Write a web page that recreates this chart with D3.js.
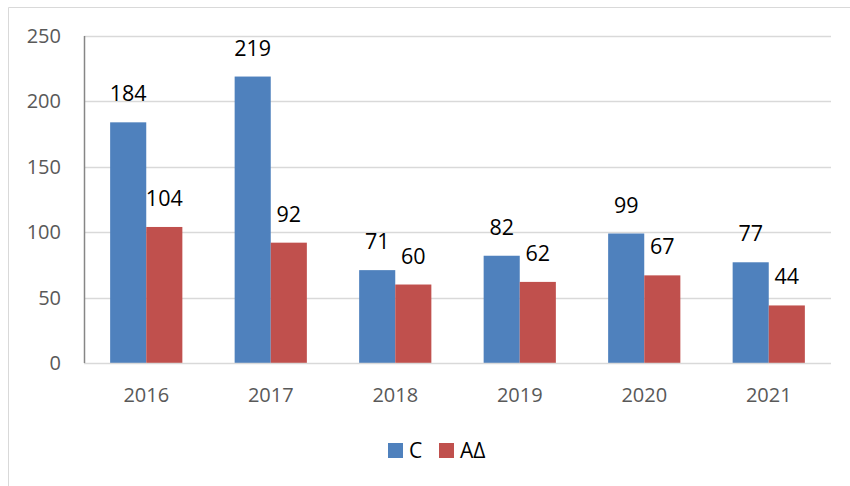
<!DOCTYPE html>
<html>
<head>
<meta charset="utf-8">
<script src="https://cdn.jsdelivr.net/npm/d3@7"></script>
<style>
  body { margin: 0; background: #fff; }
  svg { display: block; font-family: "Open Sans", "Noto Sans", sans-serif; }
</style>
</head>
<body>
<svg id="chart" width="850" height="486"></svg>
<script>
var years = ["2016", "2017", "2018", "2019", "2020", "2021"];
var seriesNames = ["C", "ΑΔ"];
var valuesC = [184, 219, 71, 82, 99, 77];
var valuesAD = [104, 92, 60, 62, 67, 44];
var yTicks = [0, 50, 100, 150, 200, 250];
var colors = ["#4f81bd", "#c0504d"];

var svg = d3.select("#chart");
var width = +svg.attr("width");
var height = +svg.attr("height");

// outer chart border (runs off the right and bottom edge)
svg.append("path")
  .attr("d", "M8.5," + height + "V7.5H" + width)
  .attr("fill", "none").attr("stroke", "#d9d9d9").attr("stroke-width", 1);

var margin = { top: 36, right: 19, bottom: 123, left: 84 };
var innerWidth = width - margin.left - margin.right;
var innerHeight = height - margin.top - margin.bottom;

var g = svg.append("g")
  .attr("transform", "translate(" + margin.left + "," + margin.top + ")");

var x0 = d3.scaleBand().domain(years).range([0, innerWidth]).paddingInner(0.42).paddingOuter(0.21);
var x1 = d3.scaleBand().domain(seriesNames).range([0, x0.bandwidth()]);
var y = d3.scaleLinear().domain([0, 250]).range([innerHeight, 0]);

var data = years.map(function (yr, i) {
  return { year: yr, vals: [valuesC[i], valuesAD[i]] };
});

// gridlines
g.selectAll("line.grid")
  .data(yTicks.filter(function (t) { return t > 0; }))
  .enter().append("line")
  .attr("class", "grid")
  .attr("x1", 0).attr("x2", innerWidth)
  .attr("y1", function (d) { return Math.round(y(d)) + 0.5; })
  .attr("y2", function (d) { return Math.round(y(d)) + 0.5; })
  .attr("stroke", "#d9d9d9").attr("stroke-width", 1.5);

// bars
var groups = g.selectAll("g.year")
  .data(data)
  .enter().append("g")
  .attr("class", "year")
  .attr("transform", function (d) { return "translate(" + x0(d.year) + ",0)"; });

function pairs(d) {
  return d.vals.map(function (v, i) { return { key: seriesNames[i], v: v, i: i }; });
}

groups.selectAll("rect")
  .data(pairs)
  .enter().append("rect")
  .attr("x", function (d) { return x1(d.key); })
  .attr("width", x1.bandwidth())
  .attr("y", function (d) { return y(d.v); })
  .attr("height", function (d) { return innerHeight - y(d.v); })
  .attr("fill", function (d) { return colors[d.i]; });

groups.selectAll("text.lbl")
  .data(pairs)
  .enter().append("text")
  .attr("class", "lbl")
  .attr("x", function (d) { return x1(d.key) + x1.bandwidth() / 2; })
  .attr("y", function (d) { return y(d.v) - 21; })
  .attr("text-anchor", "middle")
  .attr("font-size", 21.5)
  .attr("fill", "#000")
  .text(function (d) { return d.v; });

// x baseline
g.append("line")
  .attr("x1", 0).attr("x2", innerWidth)
  .attr("y1", innerHeight + 0.5).attr("y2", innerHeight + 0.5)
  .attr("stroke", "#d9d9d9").attr("stroke-width", 1.5);

// y axis line
g.append("line")
  .attr("x1", 0.5).attr("x2", 0.5)
  .attr("y1", 0).attr("y2", innerHeight)
  .attr("stroke", "#868686").attr("stroke-width", 1.5);

// y tick labels
g.selectAll("text.ytick")
  .data(yTicks)
  .enter().append("text")
  .attr("class", "ytick")
  .attr("x", -23)
  .attr("y", function (d) { return y(d); })
  .attr("dy", "0.35em")
  .attr("text-anchor", "end")
  .attr("font-size", 20)
  .attr("fill", "#595959")
  .text(function (d) { return d; });

// x tick labels
g.selectAll("text.xtick")
  .data(years)
  .enter().append("text")
  .attr("class", "xtick")
  .attr("x", function (d) { return x0(d) + x0.bandwidth() / 2; })
  .attr("y", innerHeight + 32)
  .attr("dy", "0.35em")
  .attr("text-anchor", "middle")
  .attr("font-size", 20)
  .attr("fill", "#595959")
  .text(function (d) { return d; });

// legend
var legend = svg.append("g").attr("transform", "translate(388,443)");
var item = legend.selectAll("g")
  .data(seriesNames)
  .enter().append("g")
  .attr("transform", function (d, i) { return "translate(" + (i * 51) + ",0)"; });
item.append("rect")
  .attr("width", 15).attr("height", 15)
  .attr("fill", function (d, i) { return colors[i]; });
item.append("text")
  .attr("x", 21).attr("y", 8)
  .attr("dy", "0.35em")
  .attr("font-size", 21)
  .attr("fill", "#000")
  .text(function (d) { return d; });
</script>
</body>
</html>
